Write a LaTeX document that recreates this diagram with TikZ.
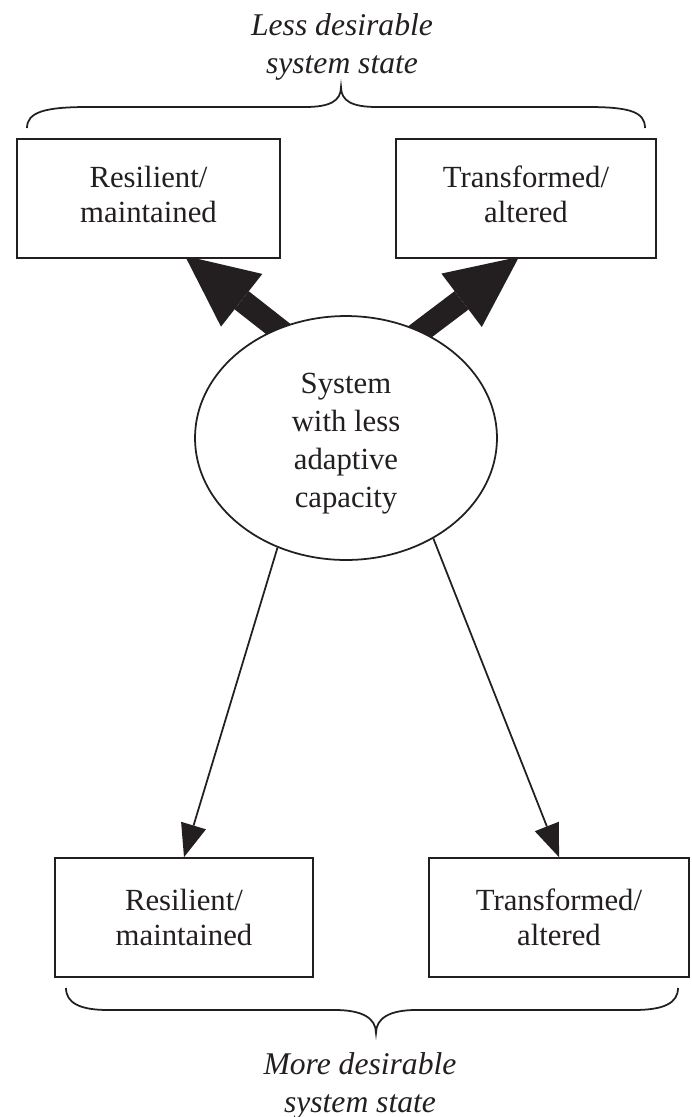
\documentclass[tikz,border=0pt]{standalone}
\usepackage{fontspec}
\setmainfont{Liberation Serif}
\usetikzlibrary{arrows.meta,calc,backgrounds,shapes.geometric}
\definecolor{ink}{RGB}{35,31,32}
\begin{document}
\begin{tikzpicture}[x=0.02cm,y=-0.02cm,
 statebox/.style={draw=ink, line width=1pt, fill=white, minimum height=2.38cm, inner sep=0pt, align=center, font=\fontsize{17.5}{20}\selectfont, text=ink},
 hub/.style={ellipse, draw=ink, line width=1pt, fill=white, minimum width=6.04cm, minimum height=4.88cm, inner sep=0pt, align=center, font=\fontsize{17.5}{21.6}\selectfont, text=ink},
 caption/.style={align=center, font=\fontsize{18}{21.6}\selectfont\itshape, text=ink},
 bigarrow/.style={draw=ink, line width=0.46cm, -{Triangle[length=1.44cm,width=1.34cm,line width=0pt]}},
 thinarrow/.style={draw=ink, line width=1pt, -{Triangle[length=0.66cm,width=0.52cm,line width=0pt]}},
 bracestyle/.style={draw=ink, line width=1pt}]
\useasboundingbox (0,0) rectangle (691,1117);

\node[statebox, minimum width=5.26cm] (tl) at (148.5,198.5) {Resilient/\\maintained\rule[-5pt]{0pt}{1pt}};
\node[statebox, minimum width=5.2cm] (tr) at (526,198.5) {Transformed/\\altered\rule[-5pt]{0pt}{1pt}};
\node[statebox, minimum width=5.16cm] (bl) at (184,917.5) {Resilient/\\maintained};
\node[statebox, minimum width=5.2cm] (br) at (559,917.5) {Transformed/\\altered};
\node[hub] (hub) at (346,438) {\rule{0pt}{18pt}System\\with less\\adaptive\\capacity};
\node[caption] (top) at (342,47) {Less desirable\\system state};
\node[caption] (bot) at (360,1086) {More desirable\\system state};

\coordinate (tlTip) at ($(tl.south)+(36.5,-3)$);
\coordinate (trTip) at ($(tr.south)+(-7,-2)$);
\begin{scope}[on background layer]
\draw[bigarrow] ($(hub.122)!-0.3cm!(tlTip)$) -- (tlTip);
\draw[bigarrow] ($(hub.55)!-0.3cm!(trTip)$) -- (trTip);
\end{scope}

\draw[thinarrow] (hub.238) -- (bl.north);
\draw[thinarrow] (hub.311) -- (br.north);

\draw[bracestyle] (27,128) .. controls (27,112) and (45,107) .. (88,107) -- (305,107) .. controls (330,107) and (341,101) .. (341,87) .. controls (341,101) and (352,107) .. (377,107) -- (588,107) .. controls (630,107) and (645,112) .. (645,128);
\draw[bracestyle] (66,988) .. controls (66,1003) and (80,1010) .. (108,1010) -- (335,1010) .. controls (362,1010) and (376,1018) .. (376,1033) .. controls (376,1018) and (390,1010) .. (416,1010) -- (634,1010) .. controls (664,1010) and (678,1003) .. (678,988);
\end{tikzpicture}
\end{document}
